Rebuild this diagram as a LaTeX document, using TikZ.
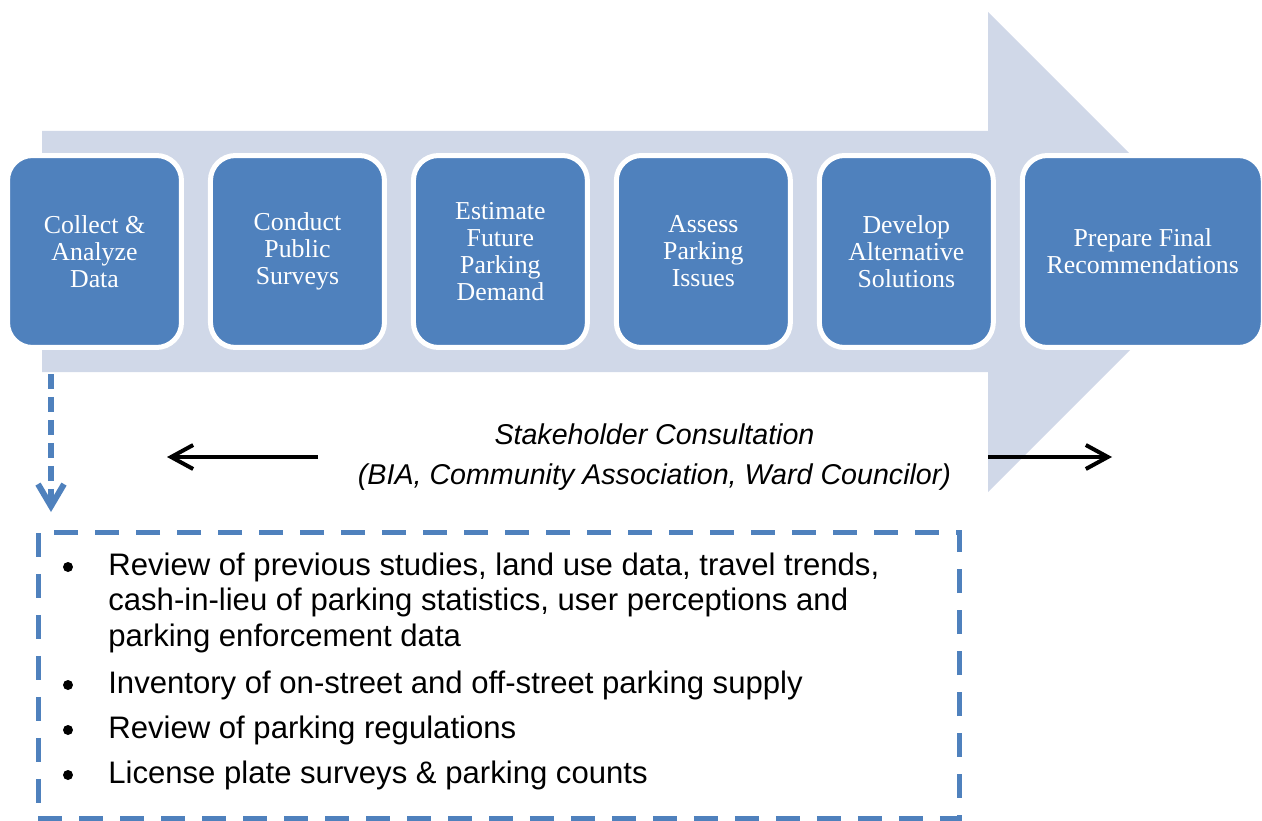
\documentclass[tikz,border=0pt]{standalone}
\usepackage{fontspec}
\setmainfont{Liberation Serif}
\newfontfamily\arialfont{Liberation Sans}
\usetikzlibrary{arrows.meta,positioning}

\definecolor{stageblue}{RGB}{79,129,189}
\definecolor{flowgrey}{RGB}{208,216,232}

\tikzset{
  stage/.style={rectangle,rounded corners=0.5cm,fill=stageblue,draw=white,line width=0.1cm,
    minimum width=3.48cm,minimum height=3.84cm,inner sep=0pt,text=white,align=center,
    font=\fontsize{14.7}{15.4}\selectfont},
  notesframe/.style={draw=stageblue,line width=0.1cm,dash pattern=on 0.48cm off 0.34cm,
    minimum width=18.44cm,minimum height=5.74cm,inner sep=0pt},
  droparrow/.style={draw=stageblue,line width=0.12cm,dash pattern=on 0.3cm off 0.16cm,
    -{Straight Barb[length=0.44cm,width=0.52cm]}},
  stakearrow/.style={draw=black,line width=0.08cm,-{Straight Barb[length=0.44cm,width=0.48cm]}},
  consult/.style={align=center,font=\arialfont\itshape\fontsize{16.3}{22.8}\selectfont},
  item/.style={anchor=base west,inner sep=0pt,align=left,font=\arialfont\fontsize{17.7}{20.3}\selectfont},
  dot/.style={circle,fill=black,inner sep=0pt,minimum size=0.2cm}
}

\begin{document}
\begin{tikzpicture}[x=0.02cm,y=-0.02cm,node distance=0.48cm]
\useasboundingbox (0,0) rectangle (1262,821);

% broad process arrow behind the stages
\fill[flowgrey] (42,131) -- (988,131) -- (988,12) -- (1228,252) -- (988,492) -- (988,372) -- (42,372) -- cycle;

% stages
\node[stage] (collect) at (94.5,251.5) {Collect \&\\Analyze\\Data};
\node[stage,right=of collect] (survey) {Conduct\\Public\\Surveys};
\node[stage,right=of survey] (demand) {Estimate\\Future\\Parking\\Demand};
\node[stage,right=of demand] (assess) {Assess\\Parking\\Issues};
\node[stage,right=of assess] (develop) {Develop\\Alternative\\Solutions};
\node[stage,right=of develop,minimum width=4.82cm] (final) {Prepare Final\\Recommendations};

% stakeholder consultation runs along the whole study
\node[consult] (consult) at (654.5,457) {Stakeholder Consultation\\(BIA, Community Association, Ward Councilor)};
\coordinate (leftfrom) at (318,457);
\coordinate (leftto) at (167,457);
\coordinate (rightfrom) at (988,457);
\coordinate (rightto) at (1112,457);
\draw[stakearrow] (leftfrom) -- (leftto);
\draw[stakearrow] (rightfrom) -- (rightto);

% details of the first stage
\node[notesframe] (notes) at (499,675.5) {};
\coordinate (drop) at (51,374);
\coordinate (dropend) at (51,512);
\draw[droparrow] (drop) -- (dropend);

% base of a multi-line node sits on its last line
\node[dot] (d1) at (68,567) {};
\node[item] (i1) at (108,646.4) {Review of previous studies, land use data, travel trends,\\cash-in-lieu of parking statistics, user perceptions and\\parking enforcement data};
\node[dot] (d2) at (68,685) {};
\node[item] (i2) at (108,693) {Inventory of on-street and off-street parking supply};
\node[dot] (d3) at (68,730) {};
\node[item] (i3) at (108,738) {Review of parking regulations};
\node[dot] (d4) at (68,775) {};
\node[item] (i4) at (108,783) {License plate surveys \& parking counts};
\end{tikzpicture}
\end{document}
